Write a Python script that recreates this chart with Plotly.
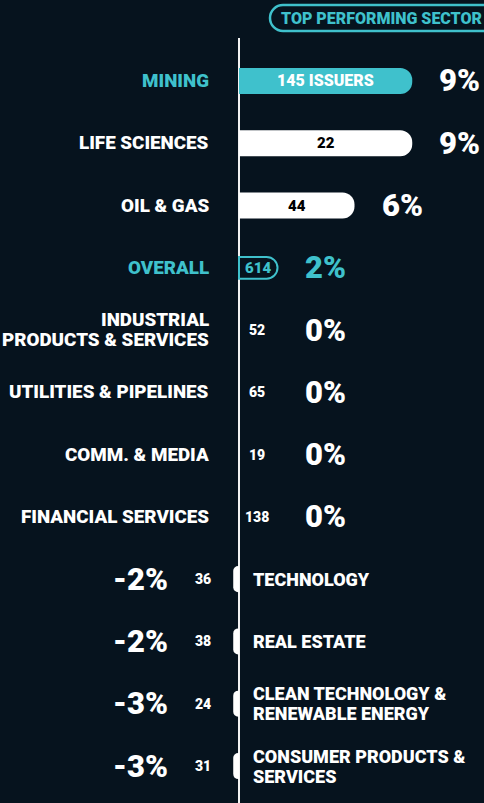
import plotly.graph_objects as go

bg = '#06131e'
teal = '#3fc1cc'
white = '#ffffff'

sectors = [
    'MINING', 'LIFE SCIENCES', 'OIL & GAS', 'OVERALL',
    'INDUSTRIAL<br>PRODUCTS & SERVICES', 'UTILITIES & PIPELINES',
    'COMM. & MEDIA', 'FINANCIAL SERVICES', 'TECHNOLOGY', 'REAL ESTATE',
    'CLEAN TECHNOLOGY &<br>RENEWABLE ENERGY', 'CONSUMER PRODUCTS &<br>SERVICES',
]
returns = [9, 9, 6, 2, 0, 0, 0, 0, -2, -2, -3, -3]
# bar lengths as drawn in the picture (negative ones are only stubs)
bar_lengths = [9, 9, 6, 2, 0, 0, 0, 0, -0.3, -0.3, -0.3, -0.3]
issuers = [145, 22, 44, 614, 52, 65, 19, 138, 36, 38, 24, 31]

W, H = 484, 803
TOP = 38
FONT = 'Roboto'
WEIGHT = 900
plot_h = H - TOP

bar_colors = []
line_widths = []
widths = []
for s in sectors:
    if s == 'MINING':
        bar_colors.append(teal)
        line_widths.append(0)
        widths.append(0.42)
    elif s == 'OVERALL':
        bar_colors.append(bg)
        line_widths.append(2)
        widths.append(0.35)
    else:
        bar_colors.append(white)
        line_widths.append(0)
        widths.append(0.42)

fig = go.Figure()
fig.add_trace(go.Bar(
    y=sectors,
    x=bar_lengths,
    orientation='h',
    width=widths,
    marker={
        'color': bar_colors,
        'line': {'color': teal, 'width': line_widths},
        'cornerradius': 12,
    },
    hoverinfo='skip',
))

annotations = []


def ann(x, y, text, size, color, anchor, xshift=0):
    # multi-line labels: one annotation per line, tight line spacing
    lines = text.split('<br>')
    n = len(lines)
    for i, line in enumerate(lines):
        annotations.append(dict(
            x=x, y=y, xref='x', yref='y', text=line, showarrow=False,
            xanchor=anchor, yanchor='middle', xshift=xshift,
            yshift=((n - 1) / 2 - i) * 20,
            font={'family': FONT, 'size': size, 'color': color, 'weight': WEIGHT},
        ))


for s, r, ln, n in zip(sectors, returns, bar_lengths, issuers):
    highlight = s in ('MINING', 'OVERALL')
    if r >= 0:
        ann(0, s, s, 18.8, teal if highlight else white, 'right', -28)
        ann(max(ln, 2), s, f'{r}%', 31, teal if s == 'OVERALL' else white, 'left', 25)
        if s == 'MINING':
            ann(ln / 2, s, f'{n} ISSUERS', 16, white, 'center')
        elif s == 'OVERALL':
            ann(ln / 2, s, str(n), 15, teal, 'center')
        elif ln > 0:
            ann(ln / 2, s, str(n), 15, '#000000', 'center')
        else:
            ann(0, s, str(n), 14, white, 'center', 18)
    else:
        ann(0, s, s, 18, white, 'left', 12)
        ann(0, s, f'{r}%', 31, white, 'right', -69)
        ann(0, s, str(n), 14, white, 'center', -36)

annotations.append(dict(
    x=382 / W, y=1 + (TOP - 18) / plot_h, xref='paper', yref='paper',
    xanchor='center', yanchor='middle',
    text='TOP PERFORMING SECTOR', showarrow=False,
    font={'family': FONT, 'size': 16, 'color': teal, 'weight': WEIGHT},
))


def px(xp, yp):
    return xp / W, 1 + (TOP - yp) / plot_h


k = 7.2
pts = [
    ('M', [(283, 5)]), ('L', [(500, 5)]), ('L', [(500, 31)]), ('L', [(283, 31)]),
    ('C', [(283 - k, 31), (270, 18 + k), (270, 18)]),
    ('C', [(270, 18 - k), (283 - k, 5), (283, 5)]),
]
path = ''
for cmd, coords in pts:
    path += cmd + ' ' + ' '.join('%.5f,%.5f' % px(a, b) for a, b in coords) + ' '
path += 'Z'

fig.update_layout(
    width=W,
    height=H,
    paper_bgcolor=bg,
    plot_bgcolor=bg,
    showlegend=False,
    margin={'t': TOP, 'l': 0, 'r': 0, 'b': 0},
    annotations=annotations,
    shapes=[dict(type='path', path=path, xref='paper', yref='paper',
                 line={'color': teal, 'width': 2.5}, fillcolor='rgba(0,0,0,0)')],
    xaxis={
        'range': [-239 / 19.25, 245 / 19.25],
        'showgrid': False,
        'showticklabels': False,
        'zeroline': True,
        'zerolinecolor': '#f2f2f2',
        'zerolinewidth': 2,
        'fixedrange': True,
    },
    yaxis={
        'range': [11.594, -0.69],
        'showgrid': False,
        'showticklabels': False,
        'zeroline': False,
        'fixedrange': True,
    },
)
fig.write_html(
    'out.html',
    config={'displayModeBar': False},
    post_script="document.body.style.margin='0';document.body.style.background='%s';" % bg,
)
